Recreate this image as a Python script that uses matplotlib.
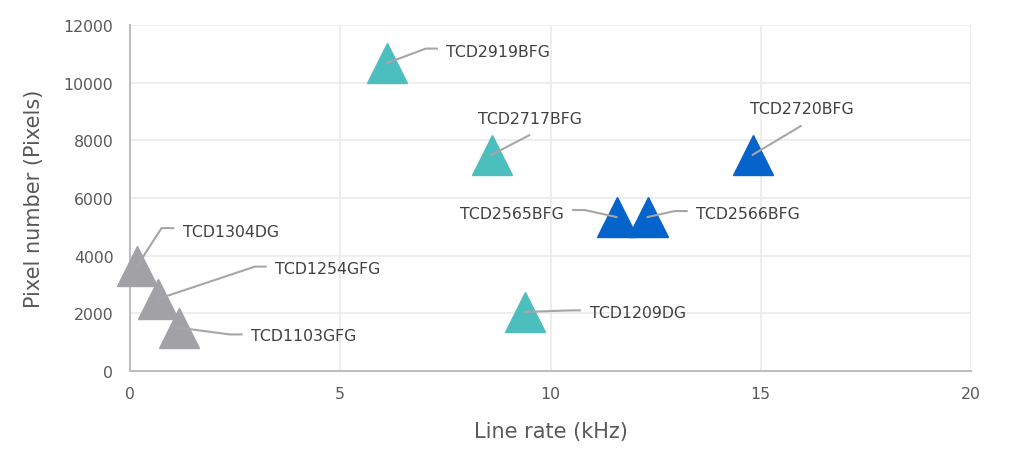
import numpy as np
import matplotlib
matplotlib.use("Agg")
import matplotlib.pyplot as plt

# sensor data
names = ["TCD1304DG", "TCD1254GFG", "TCD1103GFG",
         "TCD2919BFG", "TCD2717BFG", "TCD1209DG",
         "TCD2565BFG", "TCD2566BFG", "TCD2720BFG"]
line_rate = [0.17, 0.67, 1.17, 6.11, 8.6, 9.39, 11.57, 12.31, 14.81]
pixels = [3648, 2500, 1500, 10680, 7500, 2048, 5340, 5340, 7500]
group = ["gray", "gray", "gray", "teal", "teal", "teal", "blue", "blue", "blue"]

group_colors = {"gray": "#A1A1A6", "teal": "#4DBEBE", "blue": "#0563CC"}

# label layout in pixels relative to the marker: elbow, line end, text pos, ha
label_layout = {
    "TCD2919BFG": ((39, 14.5), (50, 14.5), (59, 11.5), "left"),
    "TCD2717BFG": ((37.6, 19.5), (37.6, 19.5), (38.3, 36), "center"),
    "TCD2720BFG": ((48, 28.7), (48, 28.7), (48.6, 46), "center"),
    "TCD2565BFG": ((-31.7, 7), (-43.4, 7), (-52.7, 3.3), "right"),
    "TCD2566BFG": ((27.3, 6), (39, 6), (48.3, 3.4), "left"),
    "TCD1209DG": ((44, 1.5), (55, 1.6), (65, -1), "left"),
    "TCD1304DG": ((24.4, 37.7), (36, 37.7), (45.4, 34.7), "left"),
    "TCD1254GFG": ((96.7, 32.3), (107.4, 32.3), (116.7, 30), "left"),
    "TCD1103GFG": ((50.7, -6.7), (62.4, -6.7), (71.4, -7.7), "left"),
}

fig = plt.figure(figsize=(10.1, 4.56), dpi=100)
ax = fig.add_axes([130 / 1010, 1 - 372 / 456, 841 / 1010, 346 / 456])

ax.set_xlim(0, 20)
ax.set_ylim(0, 12000)
ax.set_autoscale_on(False)

for i in range(len(names)):
    ax.plot(line_rate[i], pixels[i], marker="^", markersize=28.5,
            color=group_colors[group[i]], linestyle="none", zorder=3,
            clip_on=False)

for i, name in enumerate(names):
    elbow, end, txt, ha = label_layout[name]
    px, py = ax.transData.transform((line_rate[i], pixels[i]))
    pts = np.array([[px, py],
                    [px + elbow[0], py + elbow[1]],
                    [px + end[0], py + end[1]]])
    d = ax.transData.inverted().transform(pts)
    ax.plot(d[:, 0], d[:, 1], color="#A6A6A6", linewidth=1.5,
            zorder=4, clip_on=False)
    ax.annotate(name, xy=(line_rate[i], pixels[i]), xytext=txt,
                textcoords="offset pixels", ha=ha, va="center",
                fontsize=11.3, color="#404040", zorder=5)

ax.set_xticks([0, 5, 10, 15, 20])
ax.set_yticks(np.arange(0, 12001, 2000))

ax.grid(True, color="#EBEBEB", linewidth=1.2)
ax.set_axisbelow(True)
for side in ["top", "right"]:
    ax.spines[side].set_visible(False)
for side in ["left", "bottom"]:
    ax.spines[side].set_color("#BFBFBF")
    ax.spines[side].set_linewidth(1.5)

ax.tick_params(axis="both", length=0, labelsize=11.3, colors="#595959")
ax.tick_params(axis="y", pad=12)
ax.tick_params(axis="x", pad=11)

ax.set_xlabel("Line rate (kHz)", fontsize=15, color="#595959", labelpad=14)
ax.set_ylabel("Pixel number (Pixels)", fontsize=15, color="#595959", labelpad=14)

fig.savefig("out.png", dpi=100)
